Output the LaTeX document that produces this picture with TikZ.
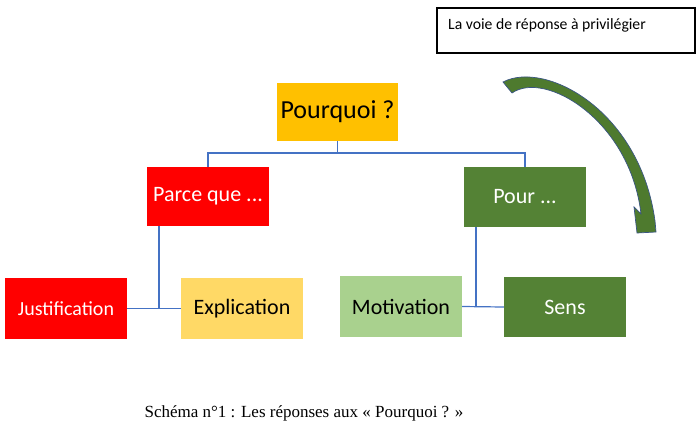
\documentclass[tikz,border=0pt]{standalone}
\usepackage{fontspec}
\setmainfont{Carlito}
\newfontfamily\capfont{Liberation Serif}
\usetikzlibrary{positioning,calc}
\definecolor{cOr}{HTML}{FFC000}
\definecolor{cRed}{HTML}{FF0000}
\definecolor{cGreen}{HTML}{548235}
\definecolor{cLemon}{HTML}{FFD966}
\definecolor{cMint}{HTML}{A9D18E}
\definecolor{cLink}{HTML}{4472C4}
\definecolor{cArrow}{HTML}{4E7A2E}
\definecolor{cEdge}{HTML}{3A5584}
\tikzset{
  box/.style={minimum width=122pt,minimum height=60pt,inner sep=0pt,font=\fontsize{22}{24}\selectfont},
  link/.style={draw=cLink,line width=1.2pt},
}
\begin{document}
\begin{tikzpicture}[x=1pt,y=-1pt]
  \useasboundingbox (0,0) rectangle (700,426);
  % niveau 1
  \node[box,fill=cOr,minimum width=121pt,minimum height=58pt,font=\fontsize{26}{28}\selectfont] (pq) at (337.5,112) {Pourquoi ?};
  % niveau 2
  \node[box,fill=cRed,text=white,minimum height=59pt] (pc) at (208,196.5) {Parce que ...};
  \node[box,fill=cGreen,text=white] (pr) at (525,197) {Pour ...};
  % niveau 3
  \node[box,fill=cRed,text=white,minimum height=61pt,font=\fontsize{20}{22}\selectfont] (ju) at (66,308.5) {Justification};
  \node[box,fill=cLemon,minimum height=61pt] (ex) at (242,308.5) {Explication};
  \node[box,fill=cMint,minimum height=61pt] (mo) at (401,306.5) {Motivation};
  \node[box,fill=cGreen,text=white] (se) at (565,307) {Sens};
  % liens
  \coordinate (fork) at (337.5,153);
  \draw[link] (pq.south) -- (fork);
  \draw[link] (pc.north) |- (fork) -| (pr.north);
  \coordinate (jx) at (159,308.5);
  \draw[link] (jx |- pc.south) -- (jx);
  \draw[link] (ju.east) -- (ex.west);
  \coordinate (mx) at (476,306.5);
  \draw[link] (mx |- pr.south) -- (mx);
  \draw[link] (mo.east) -- (se.west);
  % legende
  \node[draw=black,line width=1.2pt,minimum width=258pt,minimum height=45pt] (lg) at (566,30.5) {};
  \node[anchor=west,inner sep=0pt,font=\fontsize{15.7}{17}\selectfont] (lgt) at (448,25) {La voie de réponse à privilégier};
  % fleche courbe
  \fill[cArrow,draw=cEdge,line width=0.7pt]
    (503,82) .. controls (545,60) and (640,110) .. (655,221)
    -- (656,232) -- (637,233) -- (634,207) -- (641,214)
    .. controls (630,120) and (545,70) .. (512,93) -- cycle;
  % legende du schema
  \node[inner sep=0pt,font=\capfont\fontsize{17}{19}\selectfont] (cap) at (304,413) {Schéma n°1 : Les réponses aux « Pourquoi ? »};
\end{tikzpicture}
\end{document}
